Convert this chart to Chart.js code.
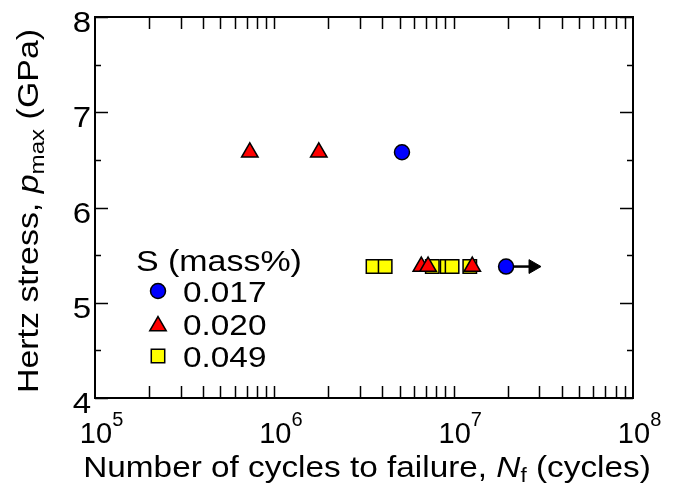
<!DOCTYPE html>
<html>
<head>
<meta charset="utf-8">
<script src="https://cdn.jsdelivr.net/npm/chart.js@4.4.1/dist/chart.umd.min.js"></script>
<style>
  html, body { margin: 0; padding: 0; background: #fff; }
  canvas { display: block; }
</style>
</head>
<body>
<canvas id="chart" width="676" height="486"></canvas>
<script>
// values
const seriesLabels = ['0.017', '0.020', '0.049'];
const legendTitle = 'S (mass%)';

const cycles017 = [5.15e6, 1.96e7];
const stress017 = [6.58, 5.38];

const cycles020 = [7.3e5, 1.77e6, 6.6e6, 7.2e6, 1.27e7];
const stress020 = [6.58, 6.58, 5.38, 5.38, 5.38];

const cycles049 = [3.55e6, 4.15e6, 7.6e6, 9.2e6, 9.8e6, 1.23e7];
const stress049 = [5.38, 5.38, 5.38, 5.38, 5.38, 5.38];

// run-out arrow (still running at the last circle)
const arrowCycles = [1.96e7, 2.77e7];
const arrowStress = [5.38, 5.38];

const xDecades = [5, 6, 7, 8];
const yTicks = [4, 5, 6, 7, 8];
const yMinorTicks = [4.5, 5.5, 6.5, 7.5];

const FONT = '"Liberation Sans", Arial, sans-serif';
const SX = 1.13; // text in the picture is a bit wider than Arial

function pts(xs, ys) {
  return xs.map((x, i) => ({ x: x, y: ys[i] }));
}

// draw text made of parts (italic / sub / sup), optionally rotated
function richText(ctx, parts, x, y, align, rot, sx) {
  ctx.save();
  ctx.translate(x, y);
  if (rot) ctx.rotate(rot);
  ctx.scale(sx, 1);
  let total = 0;
  const widths = parts.map(p => {
    ctx.font = (p.italic ? 'italic ' : '') + p.size + 'px ' + FONT;
    const w = ctx.measureText(p.t).width;
    total += w;
    return w;
  });
  let cx = align === 'center' ? -total / 2 : align === 'right' ? -total : 0;
  ctx.textAlign = 'left';
  ctx.textBaseline = 'alphabetic';
  ctx.fillStyle = '#000';
  parts.forEach((p, i) => {
    ctx.font = (p.italic ? 'italic ' : '') + p.size + 'px ' + FONT;
    ctx.fillText(p.t, cx, p.dy || 0);
    cx += widths[i];
  });
  ctx.restore();
}

const frame = {
  id: 'frame',
  afterDatasetsDraw(chart) {
    const ctx = chart.ctx;
    const a = chart.chartArea;
    const xs = chart.scales.x;
    const ys = chart.scales.y;

    ctx.save();
    ctx.strokeStyle = '#000';
    ctx.lineWidth = 1.5;
    ctx.beginPath();
    // x ticks, bottom and top
    for (let d = xDecades[0]; d < xDecades[xDecades.length - 1]; d++) {
      for (let m = 1; m <= 9; m++) {
        if (d === xDecades[0] && m === 1) continue;
        const px = Math.round(xs.getPixelForValue(m * Math.pow(10, d))) + 0.5;
        ctx.moveTo(px, a.bottom); ctx.lineTo(px, a.bottom - 12);
        ctx.moveTo(px, a.top); ctx.lineTo(px, a.top + 12);
      }
    }
    // y ticks, left and right
    yTicks.forEach(v => {
      const py = Math.round(ys.getPixelForValue(v)) + 0.5;
      ctx.moveTo(a.left, py); ctx.lineTo(a.left + 13, py);
      ctx.moveTo(a.right, py); ctx.lineTo(a.right - 13, py);
    });
    yMinorTicks.forEach(v => {
      const py = Math.round(ys.getPixelForValue(v)) + 0.5;
      ctx.moveTo(a.left, py); ctx.lineTo(a.left + 6, py);
      ctx.moveTo(a.right, py); ctx.lineTo(a.right - 6, py);
    });
    ctx.stroke();

    ctx.lineWidth = 2;
    ctx.strokeRect(a.left, a.top, a.right - a.left, a.bottom - a.top);
    ctx.restore();

    // y tick labels
    yTicks.forEach(v => {
      const py = ys.getPixelForValue(v);
      richText(ctx, [{ t: String(v), size: 30 }], 91, py + 15, 'right', 0, 1.1);
    });

    // x tick labels 10^n
    xDecades.forEach(d => {
      const px = xs.getPixelForValue(Math.pow(10, d));
      ctx.save();
      ctx.font = '29px ' + FONT;
      const w = ctx.measureText('10').width;
      ctx.fillStyle = '#000';
      ctx.textBaseline = 'alphabetic';
      ctx.textAlign = 'left';
      ctx.fillText('10', px - w / 2 + 1, 443);
      ctx.font = '20px ' + FONT;
      ctx.fillText(String(d), px + w / 2 + 1, 426);
      ctx.restore();
    });

    // axis titles
    richText(ctx, [
      { t: 'Number of cycles to failure, ', size: 29.5 },
      { t: 'N', size: 29.5, italic: true },
      { t: 'f', size: 20, dy: 5 },
      { t: ' (cycles)', size: 29.5 }
    ], 367, 477, 'center', 0, SX);

    richText(ctx, [
      { t: 'Hertz stress, ', size: 29.5 },
      { t: 'p', size: 29.5, italic: true },
      { t: 'max', size: 21, dy: 6 },
      { t: ' (GPa)', size: 29.5 }
    ], 38, 211, 'center', -Math.PI / 2, 1.15);

    // legend
    richText(ctx, [{ t: legendTitle, size: 29.5 }], 136, 271, 'left', 0, 1.15);
    const ds = chart.data.datasets;
    const rows = [291, 324, 356];
    seriesLabels.forEach((lab, i) => {
      const d = ds[i];
      ctx.save();
      ctx.fillStyle = d.backgroundColor;
      ctx.strokeStyle = '#000';
      ctx.lineWidth = d.borderWidth;
      const cy = d.pointStyle === 'triangle' ? rows[i] + 2 : rows[i];
      Chart.helpers.drawPoint(ctx, {
        pointStyle: d.pointStyle, radius: d.pointRadius, rotation: 0, borderWidth: d.borderWidth
      }, 158, cy);
      ctx.restore();
      richText(ctx, [{ t: lab, size: 29 }], 183, rows[i] + 11, 'left', 0, 1.15);
    });
  }
};

new Chart(document.getElementById('chart'), {
  type: 'scatter',
  data: {
    datasets: [
      {
        label: seriesLabels[0],
        data: pts(cycles017, stress017),
        pointStyle: 'circle',
        pointRadius: 7.5,
        backgroundColor: '#0000ff',
        borderColor: '#000',
        borderWidth: 1.5
      },
      {
        label: seriesLabels[1],
        data: pts(cycles020, stress020),
        pointStyle: 'triangle',
        pointRadius: 9.5,
        backgroundColor: '#ff0000',
        borderColor: '#000',
        borderWidth: 1.5
      },
      {
        label: seriesLabels[2],
        data: pts(cycles049, stress049),
        pointStyle: 'rect',
        pointRadius: 9.5,
        backgroundColor: '#ffff00',
        borderColor: '#000',
        borderWidth: 1.5
      },
      {
        label: 'run-out',
        type: 'line',
        data: pts(arrowCycles, arrowStress),
        showLine: true,
        borderColor: '#000',
        borderWidth: 2.5,
        pointStyle: 'triangle',
        pointRotation: 90,
        pointRadius: [0, 8],
        pointBackgroundColor: '#000',
        pointBorderColor: '#000',
        pointBorderWidth: 1
      }
    ]
  },
  options: {
    responsive: false,
    animation: false,
    devicePixelRatio: 1,
    layout: { padding: { left: 95, right: 43, top: 17, bottom: 88 } },
    plugins: { legend: { display: false }, tooltip: { enabled: false } },
    scales: {
      x: { type: 'logarithmic', min: 1e5, max: 1e8, display: false },
      y: { type: 'linear', min: 4, max: 8, display: false }
    }
  },
  plugins: [frame]
});
</script>
</body>
</html>
